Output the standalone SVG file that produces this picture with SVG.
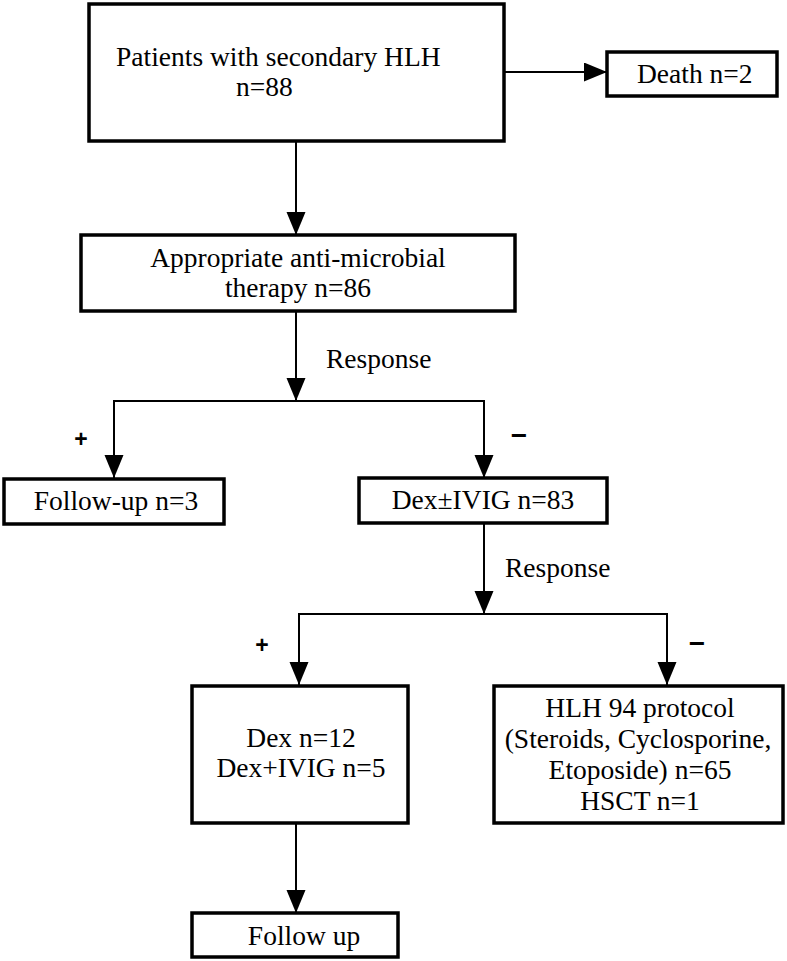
<svg xmlns="http://www.w3.org/2000/svg" width="787" height="961" viewBox="0 0 787 961">
<defs>
<style>
.box{fill:#fff;stroke:#000;stroke-width:3.5}
.t{font-family:"Liberation Serif","Times New Roman",serif;font-size:27.5px;fill:#000}
.c{text-anchor:middle}
.s{font-family:"Liberation Sans",Arial,sans-serif;font-weight:bold;fill:#000;text-anchor:middle}
.ln{fill:none;stroke:#000;stroke-width:2}
</style>
<marker id="ah" markerUnits="userSpaceOnUse" markerWidth="24" markerHeight="20" refX="23" refY="9.5" orient="auto">
<path d="M0,0 L23,9.5 L0,19 Z" fill="#000"/>
</marker>
</defs>
<rect width="787" height="961" fill="#fff"/>
<g id="connectors">
<line class="ln" x1="504" y1="72" x2="607" y2="72" marker-end="url(#ah)"/>
<line class="ln" x1="296" y1="141" x2="296" y2="235" marker-end="url(#ah)"/>
<line class="ln" x1="296" y1="311" x2="296" y2="401" marker-end="url(#ah)"/>
<polyline class="ln" points="114,478 114,401 484,401 484,478"/>
<line class="ln" x1="114" y1="420" x2="114" y2="478" marker-end="url(#ah)"/>
<line class="ln" x1="484" y1="420" x2="484" y2="478" marker-end="url(#ah)"/>
<line class="ln" x1="484" y1="523" x2="484" y2="614" marker-end="url(#ah)"/>
<polyline class="ln" points="299,685 299,614 667,614 667,685"/>
<line class="ln" x1="299" y1="640" x2="299" y2="685" marker-end="url(#ah)"/>
<line class="ln" x1="667" y1="640" x2="667" y2="685" marker-end="url(#ah)"/>
<line class="ln" x1="296" y1="823" x2="296" y2="913" marker-end="url(#ah)"/>
<text class="t" x="326" y="368">Response</text>
<text class="t" x="505" y="577">Response</text>
<text class="s" x="81" y="447" font-size="23">+</text>
<text class="s" x="519" y="445" font-size="28">−</text>
<text class="s" x="262" y="653" font-size="23">+</text>
<text class="s" x="697" y="653" font-size="28">−</text>
</g>
<g id="n-patients">
<rect class="box" x="89" y="4" width="415" height="137"/>
<text class="t" x="116" y="66">Patients with secondary HLH</text>
<text class="t" x="236" y="96">n=88</text>
</g>
<g id="n-death">
<rect class="box" x="607" y="52" width="170" height="44"/>
<text class="t" x="637" y="83">Death n=2</text>
</g>
<g id="n-antimicrobial">
<rect class="box" x="81" y="235" width="434" height="76"/>
<text class="t c" x="298" y="267">Appropriate anti-microbial</text>
<text class="t c" x="298" y="297">therapy n=86</text>
</g>
<g id="n-followup3">
<rect class="box" x="4" y="479" width="220" height="45"/>
<text class="t c" x="116" y="510">Follow-up n=3</text>
</g>
<g id="n-dexivig">
<rect class="box" x="359" y="478" width="248" height="45"/>
<text class="t c" x="483" y="509">Dex±IVIG n=83</text>
</g>
<g id="n-dex">
<rect class="box" x="192" y="686" width="216" height="137"/>
<text class="t c" x="301" y="747">Dex n=12</text>
<text class="t c" x="301" y="777">Dex+IVIG n=5</text>
</g>
<g id="n-hlh94">
<rect class="box" x="494" y="686" width="289" height="137"/>
<text class="t c" x="640" y="717">HLH 94 protocol</text>
<text class="t c" x="638" y="748">(Steroids, Cyclosporine,</text>
<text class="t c" x="640" y="779">Etoposide) n=65</text>
<text class="t c" x="640" y="810">HSCT n=1</text>
</g>
<g id="n-followup">
<rect class="box" x="192" y="913" width="206" height="44"/>
<text class="t c" x="304" y="945">Follow up</text>
</g>
</svg>
